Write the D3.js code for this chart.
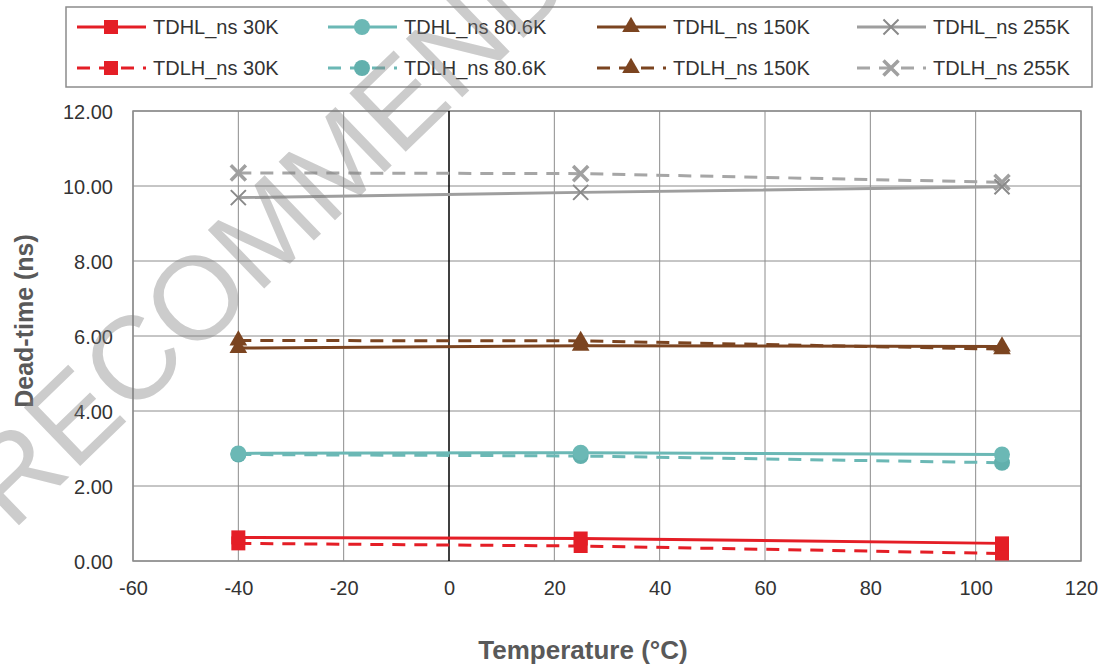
<!DOCTYPE html>
<html>
<head>
<meta charset="utf-8">
<script src="https://cdn.jsdelivr.net/npm/d3@7"></script>
<style>
  body { margin: 0; background: #fff; }
  text { font-family: "Liberation Sans", Arial, sans-serif; }
</style>
</head>
<body>
<div id="content"></div>
<script>
// data
let temps = [-40, 25, 105];
let tdhl30 = [0.63, 0.60, 0.47];
let tdlh30 = [0.47, 0.40, 0.20];
let tdhl806 = [2.87, 2.89, 2.84];
let tdlh806 = [2.84, 2.80, 2.62];
let tdhl150 = [5.68, 5.74, 5.72];
let tdlh150 = [5.88, 5.87, 5.65];
let tdhl255 = [9.69, 9.83, 9.98];
let tdlh255 = [10.35, 10.33, 10.10];

let seriesNames = ['TDHL_ns 30K', 'TDHL_ns 80.6K', 'TDHL_ns 150K', 'TDHL_ns 255K',
                   'TDLH_ns 30K', 'TDLH_ns 80.6K', 'TDLH_ns 150K', 'TDLH_ns 255K'];
let xTicks = [-60, -40, -20, 0, 20, 40, 60, 80, 100, 120];
let yTicks = [0, 2, 4, 6, 8, 10, 12];

let width = 1104, height = 666;
let pLeft = 133, pRight = 1081, pTop = 111, pBottom = 561;

let svg = d3.select('#content').append('svg')
  .attr('width', width)
  .attr('height', height);

let x = d3.scaleLinear().domain([-60, 120]).range([pLeft, pRight]);
let y = d3.scaleLinear().domain([0, 12]).range([pBottom, pTop]);

let series = [
  {name: seriesNames[4], v: tdlh30, color: '#e41e26', mcolor: '#e41e26', sym: 'square', dash: true},
  {name: seriesNames[0], v: tdhl30, color: '#e41e26', mcolor: '#e41e26', sym: 'square', dash: false},
  {name: seriesNames[5], v: tdlh806, color: '#6bb8b5', mcolor: '#62b0ad', sym: 'circle', dash: true},
  {name: seriesNames[1], v: tdhl806, color: '#6bb8b5', mcolor: '#6bb8b5', sym: 'circle', dash: false},
  {name: seriesNames[6], v: tdlh150, color: '#7b4420', mcolor: '#7b4420', sym: 'triangle', dash: true},
  {name: seriesNames[2], v: tdhl150, color: '#7b4420', mcolor: '#7b4420', sym: 'triangle', dash: false},
  {name: seriesNames[7], v: tdlh255, color: '#a6a6a6', mcolor: '#a0a0a0', sym: 'x', dash: true},
  {name: seriesNames[3], v: tdhl255, color: '#9e9e9e', mcolor: '#8a8a8a', sym: 'x', dash: false}
];

// Gridlines
let grid = svg.append('g');
grid.selectAll('.vg').data(xTicks.filter(d => d !== 0))
  .join('line')
  .attr('x1', d => x(d)).attr('x2', d => x(d))
  .attr('y1', pTop).attr('y2', pBottom)
  .attr('stroke', '#8c8c8c').attr('stroke-width', 1);
grid.selectAll('.hg').data(yTicks)
  .join('line')
  .attr('x1', pLeft).attr('x2', pRight)
  .attr('y1', d => y(d)).attr('y2', d => y(d))
  .attr('stroke', '#8c8c8c').attr('stroke-width', 1);

// plot border
svg.append('rect')
  .attr('x', pLeft).attr('y', pTop)
  .attr('width', pRight - pLeft).attr('height', pBottom - pTop)
  .attr('fill', 'none').attr('stroke', '#8c8c8c').attr('stroke-width', 1.5);

// vertical axis at 0
svg.append('line')
  .attr('x1', x(0)).attr('x2', x(0))
  .attr('y1', pTop).attr('y2', pBottom)
  .attr('stroke', '#000').attr('stroke-width', 1.5);

// axes (labels only)
let yAxis = svg.append('g')
  .attr('transform', `translate(${pLeft},0)`)
  .call(d3.axisLeft(y).tickValues(yTicks).tickFormat(d3.format('.2f')).tickSize(0).tickPadding(20));
let xAxis = svg.append('g')
  .attr('transform', `translate(0,${pBottom})`)
  .call(d3.axisBottom(x).tickValues(xTicks).tickFormat(d => String(d)).tickSize(0).tickPadding(20));
[xAxis, yAxis].forEach(a => {
  a.select('.domain').remove();
  a.selectAll('text')
    .attr('font-family', '"Liberation Sans", Arial, sans-serif')
    .attr('font-size', 20)
    .attr('fill', '#333');
});
yAxis.selectAll('text').attr('dy', '0.35em');

// axis titles
svg.append('text')
  .attr('transform', 'translate(33,321) rotate(-90)')
  .attr('text-anchor', 'middle')
  .attr('font-size', 25).attr('font-weight', 'bold')
  .attr('fill', '#595959')
  .text('Dead-time (ns)');
svg.append('text')
  .attr('x', 583).attr('y', 659)
  .attr('text-anchor', 'middle')
  .attr('font-size', 26).attr('font-weight', 'bold')
  .attr('fill', '#595959')
  .text('Temperature (°C)');

function symbolPath(sym) {
  if (sym === 'square') return d3.symbol(d3.symbolSquare, 196)();
  if (sym === 'circle') return d3.symbol(d3.symbolCircle, 200)();
  if (sym === 'triangle') return d3.symbol(d3.symbolTriangle, 135)();
  return d3.symbol(d3.symbolTimes, 150)();
}

function drawMarker(g, s, cx, cy) {
  let p = g.append('path')
    .attr('d', symbolPath(s.sym))
    .attr('transform', `translate(${cx},${cy})`);
  if (s.sym === 'x') {
    p.attr('fill', 'none').attr('stroke', s.mcolor).attr('stroke-width', s.dash ? 3.5 : 2);
  } else {
    p.attr('fill', s.mcolor);
  }
}

let line = d3.line().x((d, i) => x(temps[i])).y(d => y(d));

let plot = svg.append('g');
series.forEach(s => {
  plot.append('path')
    .datum(s.v)
    .attr('d', line)
    .attr('fill', 'none')
    .attr('stroke', s.color)
    .attr('stroke-width', 3)
    .attr('stroke-dasharray', s.dash ? '13,9' : null);
});
series.forEach(s => {
  s.v.forEach((d, i) => drawMarker(plot, s, x(temps[i]), y(d)));
});

// Legend
let legend = svg.append('g');
legend.append('rect')
  .attr('x', 66).attr('y', 7)
  .attr('width', 1026).attr('height', 80)
  .attr('fill', '#fff').attr('stroke', '#8c8c8c').attr('stroke-width', 1.5);

let colX = [77, 328, 597, 857];
let rowY = [27, 68];
let legendOrder = [series[1], series[3], series[5], series[7], series[0], series[2], series[4], series[6]];
legendOrder.forEach((s, i) => {
  let cx = colX[i % 4], cy = rowY[Math.floor(i / 4)];
  legend.append('line')
    .attr('x1', cx).attr('x2', cx + 69)
    .attr('y1', cy).attr('y2', cy)
    .attr('stroke', s.color).attr('stroke-width', 3)
    .attr('stroke-dasharray', s.dash ? '13,9' : null);
  drawMarker(legend, s, cx + 34, cy);
  legend.append('text')
    .attr('x', cx + 76).attr('y', cy)
    .attr('dy', '0.35em')
    .attr('font-size', 20)
    .attr('fill', '#333')
    .text(s.name);
});

// watermark
let wm = svg.append('g')
  .attr('transform', 'translate(12,532) rotate(-44)');
wm.append('text')
  .attr('font-size', 118)
  .attr('fill', '#808080')
  .attr('fill-opacity', 0.4)
  .attr('text-anchor', 'end')
  .text('NOT ');
wm.append('text')
  .attr('font-size', 118)
  .attr('fill', '#808080')
  .attr('fill-opacity', 0.4)
  .text('RECOMMENDED FOR NEW DESIGNS');
</script>
</body>
</html>
